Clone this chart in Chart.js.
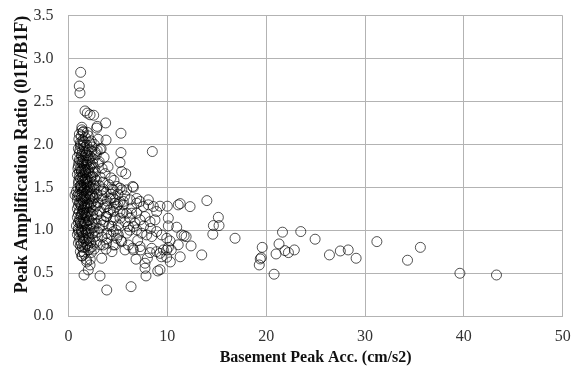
<!DOCTYPE html>
<html lang="en">
<head>
  <meta charset="UTF-8" />
  <title>Peak Amplification Ratio vs Basement Peak Acc.</title>
  <script src="https://cdn.jsdelivr.net/npm/chart.js"></script>
  <style>
    body { margin: 0; background: #fff; }
    #wrap { width: 576px; height: 367px; }
  </style>
</head>
<body>
  <div id="wrap"><canvas id="ampChart" width="576" height="367"></canvas></div>

  <script>
    // [Basement Peak Acc. (cm/s2), Peak Amplification Ratio]
    const denseCluster = [
      [1.1,2.12],[1.3,2.10],[1.5,2.15],[1.7,2.08],[1.2,2.02],[1.45,2.05],[2.0,2.10],[2.3,2.04],[2.6,2.00],[3.0,2.06],[1.35,2.17],[1.9,2.14],[1.45,2.14],
      [1.0,1.95],[1.2,1.98],[1.4,1.92],[1.6,1.96],[1.8,1.90],[2.1,1.94],[2.4,1.97],[2.7,1.91],[3.3,1.95],[1.1,1.90],[1.5,1.99],[2.9,1.93],
      [0.9,1.85],[1.1,1.82],[1.3,1.88],[1.5,1.84],[1.7,1.87],[1.9,1.81],[2.2,1.86],[2.5,1.83],[2.8,1.88],[3.1,1.80],[3.6,1.85],[1.25,1.80],
      [1.0,1.75],[1.2,1.72],[1.4,1.78],[1.6,1.74],[1.8,1.77],[2.0,1.71],[2.3,1.76],[2.6,1.73],[3.0,1.78],[3.4,1.72],[4.0,1.74],[1.3,1.70],[1.9,1.79],
      [0.9,1.65],[1.1,1.62],[1.3,1.68],[1.5,1.64],[1.7,1.67],[1.9,1.61],[2.1,1.66],[2.4,1.63],[2.7,1.68],[3.2,1.62],[3.7,1.66],[4.3,1.61],[1.2,1.60],[2.0,1.69],
      [1.0,1.55],[1.2,1.52],[1.4,1.58],[1.6,1.54],[1.8,1.57],[2.0,1.51],[2.2,1.56],[2.5,1.53],[2.8,1.58],[3.1,1.52],[3.5,1.56],[4.1,1.53],[4.6,1.58],[1.3,1.50],[1.7,1.59],[2.3,1.50],
      [0.8,1.45],[1.0,1.42],[1.2,1.48],[1.4,1.44],[1.6,1.47],[1.8,1.41],[2.0,1.46],[2.3,1.43],[2.6,1.48],[2.9,1.42],[3.3,1.46],[3.8,1.44],[4.4,1.48],[5.0,1.42],[1.1,1.40],[1.9,1.49],[2.4,1.40],
      [0.9,1.35],[1.1,1.32],[1.3,1.38],[1.5,1.34],[1.7,1.37],[1.9,1.31],[2.1,1.36],[2.4,1.33],[2.7,1.38],[3.0,1.32],[3.4,1.36],[3.9,1.34],[4.5,1.38],[5.2,1.33],[1.2,1.30],[2.2,1.39],
      [0.9,1.25],[1.1,1.22],[1.3,1.28],[1.5,1.24],[1.7,1.27],[1.9,1.21],[2.2,1.26],[2.5,1.23],[2.8,1.28],[3.2,1.22],[3.6,1.26],[4.2,1.24],[1.4,1.20],[2.0,1.29],
      [0.9,1.15],[1.1,1.12],[1.3,1.18],[1.5,1.14],[1.7,1.17],[2.0,1.11],[2.3,1.16],[2.6,1.13],[2.9,1.18],[3.3,1.12],[3.8,1.16],[1.2,1.10],[1.8,1.19],
      [0.8,1.05],[1.0,1.02],[1.2,1.08],[1.4,1.04],[1.6,1.07],[1.9,1.01],[2.2,1.06],[2.5,1.03],[2.8,1.08],[3.1,1.02],[3.5,1.06],[1.3,1.00],[1.7,1.09],
      [0.9,0.95],[1.1,0.92],[1.3,0.98],[1.5,0.94],[1.8,0.97],[2.1,0.91],[2.4,0.96],[2.7,0.93],[3.0,0.98],[3.4,0.92],[1.6,0.90],
      [1.0,0.85],[1.2,0.82],[1.5,0.87],[1.8,0.84],[2.1,0.88],[2.4,0.81],[2.8,0.86],[3.2,0.83],[1.4,0.80],
      [1.2,0.75],[1.6,0.72],[2.0,0.77],[2.3,0.74],[2.6,0.78],[1.4,0.70],
      [1.33,0.70],[1.5,0.75],[1.84,0.63],[2.18,0.595],[2.0,0.537],[1.57,0.478],[3.19,0.467],[3.87,0.303],[3.36,0.673],[1.8,0.66],[2.2,0.66]
    ];

    const denseCore = [
      [1.25,2.0],[1.55,2.03],[1.85,1.99],[2.15,2.02],[1.05,2.06],
      [1.35,1.86],[1.65,1.91],[1.95,1.87],[2.35,1.92],[1.15,1.93],
      [1.05,1.79],[1.45,1.81],[1.75,1.82],[2.05,1.84],[2.45,1.78],[1.55,1.76],
      [1.1,1.68],[1.45,1.71],[1.75,1.70],[2.15,1.73],[2.5,1.67],[1.6,1.69],[0.95,1.72],
      [1.05,1.58],[1.35,1.62],[1.65,1.60],[1.95,1.57],[2.25,1.62],[2.65,1.60],[1.5,1.56],
      [0.95,1.49],[1.25,1.52],[1.55,1.50],[1.85,1.53],[2.15,1.48],[2.7,1.51],[1.45,1.46],
      [0.9,1.40],[1.25,1.42],[1.55,1.39],[1.85,1.44],[2.15,1.41],[2.55,1.37],[1.35,1.36],
      [1.0,1.29],[1.35,1.31],[1.6,1.29],[1.85,1.27],[2.25,1.31],[2.6,1.30],[1.55,1.26],
      [1.0,1.19],[1.25,1.16],[1.6,1.20],[1.85,1.15],[2.1,1.21],[2.45,1.18],[1.45,1.23],
      [1.0,1.09],[1.35,1.07],[1.55,1.10],[1.85,1.06],[2.1,1.12],[2.4,1.08],
      [1.05,0.98],[1.4,0.97],[1.7,1.00],[2.0,0.96],[2.3,1.01],[2.6,0.99],
      [1.15,0.88],[1.45,0.91],[1.75,0.88],[2.0,0.92],[2.25,0.86],
      [1.3,0.84],[1.65,0.80],[1.95,0.82],[2.2,0.79]
    ];

    const upperPoints = [
      [1.23,2.84],[1.09,2.68],[1.16,2.60],[1.67,2.39],[1.9,2.365],[2.18,2.345],[2.55,2.34],[3.76,2.25],[2.9,2.21],[5.31,2.13],
      [8.48,1.917],[5.31,1.905],[5.21,1.789],[5.38,1.684],[5.79,1.657],[2.85,2.19],[1.35,2.20],[3.8,2.05],[3.2,1.94],
      [6.5,1.51],[4.9,1.51],[5.4,1.47],[0.66,1.41],[1.0,1.0]
    ];

    const midCluster = [
      [4.54,1.47],[5.21,1.49],[5.89,1.47],[6.56,1.50],[4.2,1.37],[4.71,1.354],[5.55,1.335],[6.22,1.354],[6.9,1.37],[7.24,1.335],[8.08,1.296],
      [3.86,1.276],[4.71,1.315],[4.88,1.276],[5.55,1.296],[6.39,1.257],[6.9,1.315],[7.57,1.276],[8.08,1.354],[8.58,1.276],[8.92,1.218],[4.54,1.218],[5.21,1.218],[5.89,1.198],[6.39,1.198],
      [3.86,1.159],[4.54,1.12],[5.21,1.14],[5.72,1.10],[6.22,1.14],[6.73,1.082],[7.24,1.12],[7.74,1.159],[8.25,1.10],[8.75,1.12],[4.37,1.043],[5.04,1.062],[6.06,1.043],[6.56,1.043],
      [3.86,0.965],[4.54,0.984],[5.04,0.945],[5.89,0.965],[6.9,1.004],[7.4,0.965],[7.91,0.945],[8.42,0.926],[8.92,0.984],[9.43,0.945],[9.94,0.906],[4.88,0.906],
      [3.86,0.848],[4.71,0.828],[5.38,0.867],[6.06,0.828],[6.56,0.77],[7.24,0.809],[8.42,0.789],[8.92,0.75],[9.94,0.77],
      [3.4,1.40],[3.7,1.30],[4.0,1.20],[3.6,1.10],[4.1,1.05],[3.9,0.90],[4.3,0.95],[4.8,1.00],[4.7,1.15],[5.0,1.30],[5.5,1.20],
      [3.5,1.48],[4.3,1.42],[5.7,1.40],[6.2,1.00],[5.3,0.88],[7.0,0.88],[4.4,0.75],[3.8,0.78],[6.9,1.20],[7.6,1.05],[8.3,1.02]
    ];

    const outerPoints = [
      [14.0,1.345],[12.3,1.275],[11.3,1.31],[11.1,1.295],[10.0,1.28],[9.26,1.28],[15.16,1.15],[14.66,1.054],[15.23,1.054],[14.6,0.953],
      [16.85,0.906],[12.4,0.817],[13.48,0.712],[11.45,0.945],[11.9,0.925],[11.7,0.935],[10.1,1.14],[10.1,1.05],[10.95,1.035],[10.27,0.875],
      [11.1,0.83],[10.4,0.77],[10.1,0.80],[11.3,0.69],[10.3,0.63],[9.4,0.69],[9.6,0.77],[9.26,0.54],[9.03,0.525],[7.84,0.467],[6.33,0.342],
      [6.83,0.662],[7.74,0.615],[7.74,0.557],[7.98,0.673],[8.25,0.739],[9.26,0.73],[9.94,0.685],[5.72,0.77],[6.5,0.79],[7.3,0.77],[4.53,0.828],[3.52,0.828],
      [19.6,0.80],[19.4,0.665],[19.3,0.595],[19.5,0.68],[20.8,0.487],[21.65,0.977],[21.3,0.84],[21.0,0.723],[21.9,0.762],[22.25,0.739],
      [22.85,0.77],[23.5,0.984],[24.95,0.895],[26.4,0.712],[27.5,0.758],[28.3,0.77],[29.1,0.673],[31.2,0.867],[35.6,0.80],[34.3,0.65],
      [39.6,0.498],[43.3,0.478]
    ];

    const xTicks = [0, 10, 20, 30, 40, 50];
    const yTicks = [0.0, 0.5, 1.0, 1.5, 2.0, 2.5, 3.0, 3.5];

    const allPoints = denseCluster.concat(denseCore, upperPoints, midCluster, outerPoints)
      .map(p => ({ x: p[0], y: p[1] }));

    const serif = "'Liberation Serif', 'Times New Roman', serif";
    const gridColor = '#b3b3b3';

    new Chart(document.getElementById('ampChart'), {
      type: 'scatter',
      data: {
        datasets: [{
          data: allPoints,
          pointStyle: 'circle',
          pointRadius: 5,
          pointBorderWidth: 1,
          borderColor: 'rgba(0, 0, 0, 0.68)',
          backgroundColor: 'rgba(0, 0, 0, 0)'
        }]
      },
      options: {
        responsive: false,
        animation: false,
        layout: { padding: { left: 0, right: 13.3, top: 15.7, bottom: 0 } },
        plugins: {
          legend: { display: false },
          tooltip: { enabled: false }
        },
        scales: {
          x: {
            type: 'linear',
            min: xTicks[0],
            max: xTicks[xTicks.length - 1],
            afterBuildTicks: s => { s.ticks = xTicks.map(v => ({ value: v })); },
            afterFit: s => { s.height = 51; s.paddingLeft = 0; s.paddingRight = 0; },
            grid: { color: gridColor, drawTicks: false },
            border: { color: gridColor },
            ticks: { color: '#333', padding: 11, font: { family: serif, size: 16 } },
            title: {
              display: true,
              text: 'Basement Peak Acc. (cm/s2)',
              color: '#111',
              padding: { top: 0, bottom: 0 },
              font: { family: serif, size: 16, weight: 'bold' }
            }
          },
          y: {
            min: yTicks[0],
            max: yTicks[yTicks.length - 1],
            afterBuildTicks: s => { s.ticks = yTicks.map(v => ({ value: v })); },
            afterFit: s => { s.width = 68.5; s.paddingTop = 0; s.paddingBottom = 0; },
            grid: { color: gridColor, drawTicks: false },
            border: { color: gridColor },
            ticks: {
              color: '#333',
              padding: 15,
              font: { family: serif, size: 16 },
              callback: v => v.toFixed(1)
            },
            title: {
              display: true,
              text: 'Peak Amplification Ratio (01F/B1F)',
              align: 'end',
              color: '#111',
              padding: { top: 12, bottom: 0 },
              font: { family: serif, size: 18, weight: 'bold' }
            }
          }
        }
      }
    });
  </script>
</body>
</html>
